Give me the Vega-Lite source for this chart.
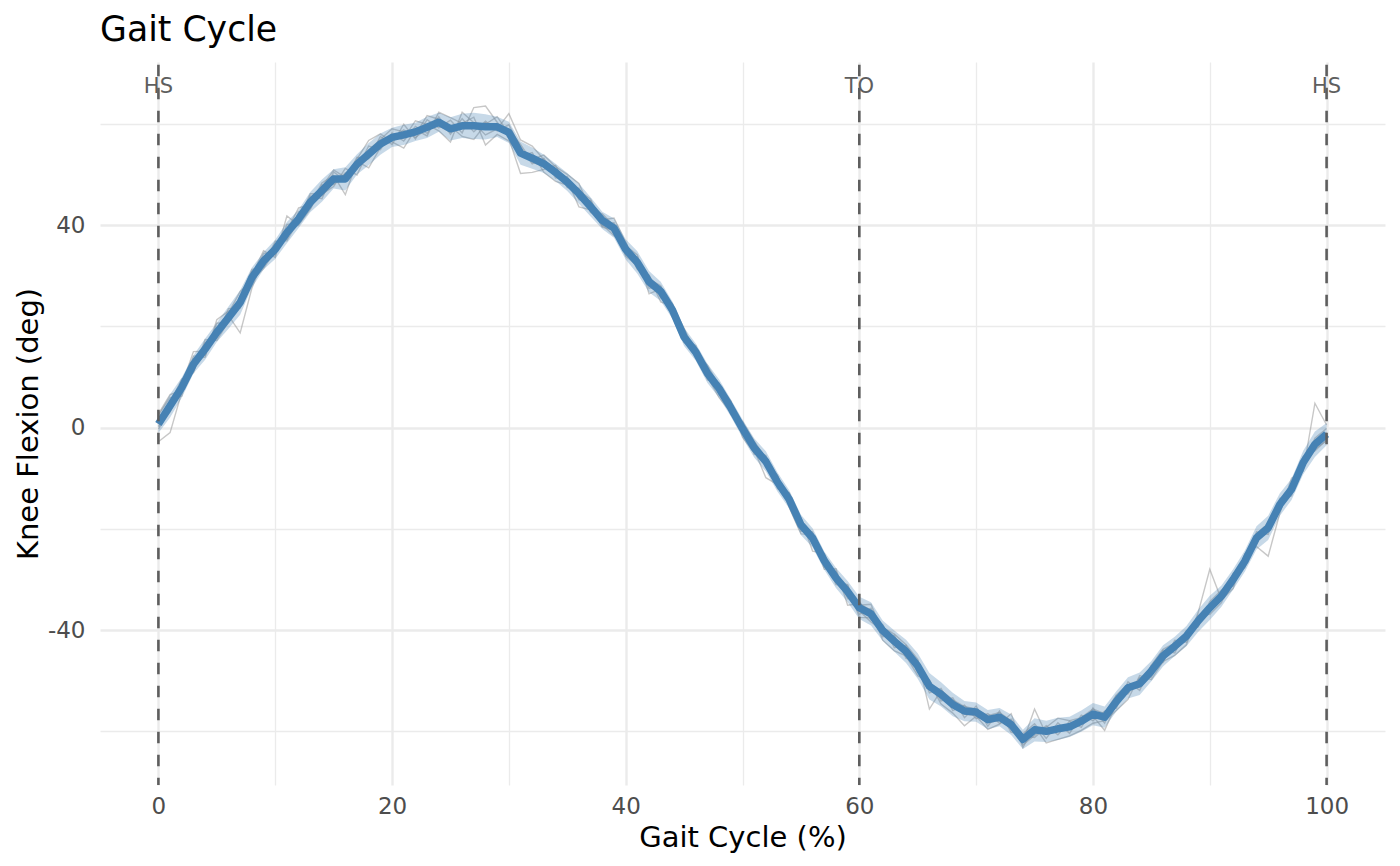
{
  "$schema": "https://vega.github.io/schema/vega-lite/v6.json",
  "width": 1285,
  "height": 723,
  "autosize": "none",
  "padding": {"left": 100, "top": 62, "right": 15, "bottom": 81},
  "background": "white",
  "title": {
    "text": "Gait Cycle",
    "anchor": "start",
    "frame": "group",
    "baseline": "alphabetic",
    "offset": -15,
    "fontSize": 34.7,
    "fontWeight": "normal",
    "color": "black"
  },
  "config": {
    "font": "DejaVu Sans",
    "view": {"stroke": null},
    "axis": {"domain": false, "ticks": false, "tickSize": 0, "gridColor": "#EBEBEB"}
  },
  "datasets": {
    "gait": [
      {"p":0,"m":0.7,"s":1.8,"a":0.2,"b":2.5,"c":-2.8,"d":1.6,"e":2.7,"f":-0.3},
      {"p":1,"m":4.3,"s":2.3,"a":3.1,"b":5.9,"c":-1.0,"d":4.8,"e":6.5,"f":3.6},
      {"p":2,"m":7.9,"s":2.0,"a":8.8,"b":6.2,"c":7.0,"d":9.6,"e":7.3,"f":8.4},
      {"p":3,"m":12.5,"s":1.8,"a":11.2,"b":14.1,"c":12.9,"d":10.8,"e":13.6,"f":15.0},
      {"p":4,"m":15.5,"s":2.1,"a":16.8,"b":14.2,"c":15.9,"d":17.4,"e":13.9,"f":15.1},
      {"p":5,"m":18.8,"s":1.9,"a":17.9,"b":20.6,"c":19.4,"d":17.2,"e":21.3,"f":18.1},
      {"p":6,"m":21.7,"s":2.2,"a":23.5,"b":20.8,"c":22.1,"d":21.0,"e":23.0,"f":22.6},
      {"p":7,"m":24.7,"s":2.4,"a":23.6,"b":26.0,"c":18.7,"d":25.4,"e":24.1,"f":26.9},
      {"p":8,"m":29.6,"s":2.0,"a":30.8,"b":28.3,"c":27.5,"d":31.2,"e":30.1,"f":29.0},
      {"p":9,"m":32.9,"s":1.7,"a":31.7,"b":34.4,"c":33.5,"d":32.0,"e":34.9,"f":31.4},
      {"p":10,"m":35.2,"s":1.9,"a":36.3,"b":34.1,"c":35.9,"d":36.8,"e":33.6,"f":35.0},
      {"p":11,"m":38.5,"s":2.1,"a":37.2,"b":40.1,"c":38.9,"d":36.9,"e":41.8,"f":38.0},
      {"p":12,"m":41.2,"s":1.8,"a":42.6,"b":40.3,"c":43.4,"d":41.0,"e":40.0,"f":42.1},
      {"p":13,"m":44.5,"s":2.0,"a":43.4,"b":45.7,"c":44.0,"d":46.2,"e":43.1,"f":45.3},
      {"p":14,"m":46.8,"s":2.2,"a":47.9,"b":45.2,"c":48.3,"d":46.1,"e":47.5,"f":45.8},
      {"p":15,"m":49.1,"s":1.9,"a":48.0,"b":50.5,"c":49.8,"d":47.6,"e":50.9,"f":48.4},
      {"p":16,"m":49.1,"s":2.3,"a":50.3,"b":48.7,"c":46.0,"d":51.2,"e":49.4,"f":50.0},
      {"p":17,"m":52.0,"s":2.0,"a":51.1,"b":53.4,"c":52.6,"d":49.9,"e":53.0,"f":51.5},
      {"p":18,"m":54.0,"s":2.2,"a":55.6,"b":53.1,"c":51.3,"d":54.8,"e":56.7,"f":53.7},
      {"p":19,"m":56.0,"s":2.1,"a":54.9,"b":57.5,"c":55.3,"d":56.9,"e":58.0,"f":55.4},
      {"p":20,"m":57.3,"s":1.9,"a":58.2,"b":55.9,"c":57.8,"d":59.0,"e":56.4,"f":57.0},
      {"p":21,"m":57.8,"s":2.0,"a":56.6,"b":59.9,"c":57.1,"d":58.4,"e":55.2,"f":58.8},
      {"p":22,"m":58.4,"s":1.8,"a":59.5,"b":57.0,"c":60.6,"d":57.8,"e":58.9,"f":57.3},
      {"p":23,"m":59.3,"s":2.1,"a":58.1,"b":60.8,"c":59.9,"d":61.6,"e":57.6,"f":59.0},
      {"p":24,"m":60.3,"s":1.9,"a":61.4,"b":59.2,"c":58.6,"d":60.9,"e":62.3,"f":59.7},
      {"p":25,"m":59.0,"s":2.3,"a":57.9,"b":60.7,"c":56.4,"d":59.5,"e":61.2,"f":58.3},
      {"p":26,"m":59.6,"s":2.4,"a":61.0,"b":58.2,"c":62.3,"d":57.5,"e":60.1,"f":59.9},
      {"p":27,"m":59.6,"s":2.6,"a":58.4,"b":63.2,"c":60.2,"d":56.9,"e":61.3,"f":59.1},
      {"p":28,"m":59.4,"s":2.5,"a":60.5,"b":63.5,"c":57.8,"d":59.9,"e":55.8,"f":60.2},
      {"p":29,"m":59.4,"s":2.0,"a":58.6,"b":60.3,"c":59.0,"d":61.4,"e":57.9,"f":58.8},
      {"p":30,"m":58.3,"s":2.1,"a":59.8,"b":57.1,"c":62.0,"d":58.0,"e":56.6,"f":58.9},
      {"p":31,"m":54.2,"s":2.3,"a":55.3,"b":50.2,"c":56.8,"d":53.6,"e":54.0,"f":55.9},
      {"p":32,"m":53.2,"s":2.1,"a":52.1,"b":50.4,"c":55.6,"d":54.3,"e":53.0,"f":52.4},
      {"p":33,"m":52.1,"s":1.8,"a":53.2,"b":51.0,"c":52.9,"d":50.4,"e":53.8,"f":51.6},
      {"p":34,"m":50.4,"s":1.7,"a":49.3,"b":51.8,"c":50.0,"d":48.6,"e":51.5,"f":50.9},
      {"p":35,"m":48.5,"s":1.8,"a":49.6,"b":47.4,"c":48.9,"d":47.9,"e":50.0,"f":48.1},
      {"p":36,"m":46.2,"s":2.0,"a":45.0,"b":47.3,"c":43.6,"d":46.8,"e":48.2,"f":45.7},
      {"p":37,"m":43.6,"s":1.9,"a":44.8,"b":42.5,"c":43.0,"d":45.1,"e":42.9,"f":44.1},
      {"p":38,"m":40.9,"s":1.7,"a":39.8,"b":41.6,"c":42.2,"d":40.1,"e":41.0,"f":39.6},
      {"p":39,"m":39.4,"s":1.9,"a":40.5,"b":38.2,"c":39.8,"d":37.9,"e":41.4,"f":39.0},
      {"p":40,"m":35.2,"s":2.0,"a":34.1,"b":36.0,"c":33.8,"d":35.9,"e":36.6,"f":34.7},
      {"p":41,"m":32.6,"s":2.2,"a":33.7,"b":31.2,"c":32.0,"d":34.1,"e":31.9,"f":33.0},
      {"p":42,"m":28.8,"s":2.1,"a":27.5,"b":30.1,"c":28.2,"d":26.4,"e":29.9,"f":29.3},
      {"p":43,"m":26.9,"s":1.9,"a":27.8,"b":25.6,"c":26.2,"d":27.4,"e":24.8,"f":28.0},
      {"p":44,"m":23.2,"s":1.7,"a":22.0,"b":24.5,"c":23.9,"d":22.6,"e":24.0,"f":23.0},
      {"p":45,"m":17.9,"s":1.8,"a":19.1,"b":16.8,"c":18.3,"d":17.2,"e":19.6,"f":17.0},
      {"p":46,"m":14.9,"s":1.7,"a":13.8,"b":15.7,"c":14.1,"d":16.2,"e":14.6,"f":15.3},
      {"p":47,"m":10.7,"s":1.9,"a":11.9,"b":9.4,"c":11.1,"d":10.0,"e":12.3,"f":9.9},
      {"p":48,"m":7.7,"s":1.8,"a":6.5,"b":8.8,"c":7.1,"d":5.9,"e":8.2,"f":8.0},
      {"p":49,"m":3.9,"s":1.7,"a":5.1,"b":2.6,"c":4.4,"d":3.0,"e":5.3,"f":3.5},
      {"p":50,"m":-0.2,"s":1.8,"a":-1.4,"b":0.9,"c":-0.6,"d":1.2,"e":-1.9,"f":0.3},
      {"p":51,"m":-4.0,"s":1.9,"a":-3.0,"b":-5.3,"c":-4.4,"d":-2.7,"e":-5.0,"f":-3.6},
      {"p":52,"m":-6.7,"s":2.0,"a":-7.8,"b":-5.5,"c":-9.9,"d":-6.2,"e":-7.1,"f":-5.9},
      {"p":53,"m":-10.8,"s":1.9,"a":-9.6,"b":-12.1,"c":-11.3,"d":-10.0,"e":-9.4,"f":-11.7},
      {"p":54,"m":-14.2,"s":1.8,"a":-15.4,"b":-13.0,"c":-14.9,"d":-13.6,"e":-15.8,"f":-12.9},
      {"p":55,"m":-19.2,"s":2.0,"a":-18.0,"b":-20.5,"c":-19.8,"d":-17.9,"e":-21.0,"f":-18.6},
      {"p":56,"m":-21.8,"s":1.9,"a":-23.0,"b":-20.6,"c":-22.3,"d":-24.4,"e":-21.1,"f":-20.9},
      {"p":57,"m":-26.3,"s":1.8,"a":-25.2,"b":-27.6,"c":-26.8,"d":-24.9,"e":-28.0,"f":-25.8},
      {"p":58,"m":-29.7,"s":2.0,"a":-31.0,"b":-28.4,"c":-29.1,"d":-30.6,"e":-27.9,"f":-30.2},
      {"p":59,"m":-32.4,"s":2.1,"a":-31.2,"b":-33.8,"c":-32.9,"d":-31.0,"e":-35.1,"f":-32.0},
      {"p":60,"m":-35.6,"s":2.2,"a":-36.9,"b":-34.3,"c":-35.1,"d":-37.5,"e":-34.8,"f":-36.2},
      {"p":61,"m":-36.8,"s":2.3,"a":-35.7,"b":-38.0,"c":-34.9,"d":-37.6,"e":-36.1,"f":-38.4},
      {"p":62,"m":-40.1,"s":2.0,"a":-41.3,"b":-38.9,"c":-40.6,"d":-39.5,"e":-42.0,"f":-40.0},
      {"p":63,"m":-42.2,"s":2.1,"a":-41.0,"b":-43.5,"c":-42.9,"d":-40.8,"e":-44.1,"f":-41.6},
      {"p":64,"m":-44.2,"s":2.3,"a":-45.6,"b":-43.0,"c":-44.8,"d":-42.9,"e":-45.1,"f":-44.0},
      {"p":65,"m":-47.1,"s":2.5,"a":-46.0,"b":-48.4,"c":-47.7,"d":-45.8,"e":-49.0,"f":-46.6},
      {"p":66,"m":-51.1,"s":2.6,"a":-52.4,"b":-49.8,"c":-51.8,"d":-55.6,"e":-50.3,"f":-50.9},
      {"p":67,"m":-52.7,"s":2.4,"a":-51.5,"b":-54.0,"c":-53.3,"d":-51.9,"e":-54.6,"f":-52.1},
      {"p":68,"m":-54.7,"s":2.3,"a":-55.9,"b":-53.4,"c":-55.2,"d":-53.8,"e":-56.4,"f":-54.1},
      {"p":69,"m":-56.0,"s":2.0,"a":-54.8,"b":-57.3,"c":-56.6,"d":-55.1,"e":-58.9,"f":-55.6},
      {"p":70,"m":-56.2,"s":1.9,"a":-57.5,"b":-55.0,"c":-56.9,"d":-55.6,"e":-57.0,"f":-55.8},
      {"p":71,"m":-57.7,"s":1.9,"a":-56.5,"b":-59.0,"c":-58.3,"d":-56.9,"e":-59.6,"f":-57.1},
      {"p":72,"m":-57.2,"s":1.8,"a":-58.4,"b":-56.0,"c":-57.8,"d":-56.3,"e":-58.6,"f":-56.9},
      {"p":73,"m":-58.7,"s":2.0,"a":-57.6,"b":-60.2,"c":-59.2,"d":-57.9,"e":-56.5,"f":-59.0},
      {"p":74,"m":-61.6,"s":1.9,"a":-62.7,"b":-60.5,"c":-62.1,"d":-60.9,"e":-63.2,"f":-61.3},
      {"p":75,"m":-59.7,"s":2.3,"a":-60.8,"b":-58.5,"c":-55.6,"d":-61.2,"e":-59.0,"f":-60.3},
      {"p":76,"m":-60.0,"s":2.1,"a":-58.9,"b":-61.4,"c":-60.6,"d":-59.2,"e":-62.3,"f":-59.6},
      {"p":77,"m":-59.5,"s":2.2,"a":-60.7,"b":-58.3,"c":-60.0,"d":-57.4,"e":-61.6,"f":-59.1},
      {"p":78,"m":-59.1,"s":2.0,"a":-58.0,"b":-60.4,"c":-59.6,"d":-57.9,"e":-60.9,"f":-58.6},
      {"p":79,"m":-58.0,"s":2.1,"a":-59.2,"b":-56.8,"c":-58.6,"d":-57.3,"e":-59.8,"f":-57.5},
      {"p":80,"m":-56.6,"s":2.2,"a":-55.4,"b":-57.9,"c":-57.0,"d":-55.6,"e":-58.4,"f":-56.1},
      {"p":81,"m":-57.2,"s":2.1,"a":-58.4,"b":-56.0,"c":-59.8,"d":-56.5,"e":-57.9,"f":-56.8},
      {"p":82,"m":-54.1,"s":2.0,"a":-53.0,"b":-55.4,"c":-54.6,"d":-52.8,"e":-55.9,"f":-53.7},
      {"p":83,"m":-51.4,"s":2.1,"a":-52.6,"b":-50.2,"c":-51.9,"d":-50.8,"e":-53.7,"f":-51.0},
      {"p":84,"m":-50.6,"s":2.2,"a":-49.4,"b":-51.9,"c":-50.0,"d":-51.3,"e":-49.0,"f":-50.2},
      {"p":85,"m":-48.1,"s":2.0,"a":-49.3,"b":-47.0,"c":-48.7,"d":-46.9,"e":-49.8,"f":-47.6},
      {"p":86,"m":-45.1,"s":2.1,"a":-44.0,"b":-46.4,"c":-45.6,"d":-43.8,"e":-46.2,"f":-44.7},
      {"p":87,"m":-43.2,"s":1.9,"a":-44.5,"b":-42.0,"c":-43.9,"d":-42.6,"e":-45.0,"f":-42.8},
      {"p":88,"m":-41.2,"s":2.0,"a":-40.1,"b":-42.4,"c":-41.8,"d":-40.5,"e":-42.9,"f":-40.8},
      {"p":89,"m":-38.2,"s":2.2,"a":-39.4,"b":-37.1,"c":-38.8,"d":-37.5,"e":-36.6,"f":-38.0},
      {"p":90,"m":-35.6,"s":2.4,"a":-34.4,"b":-36.9,"c":-35.1,"d":-36.3,"e":-28.0,"f":-35.2},
      {"p":91,"m":-33.3,"s":2.1,"a":-32.1,"b":-34.6,"c":-33.9,"d":-32.4,"e":-34.0,"f":-33.0},
      {"p":92,"m":-30.0,"s":2.0,"a":-31.3,"b":-28.8,"c":-30.6,"d":-29.2,"e":-31.8,"f":-29.5},
      {"p":93,"m":-26.4,"s":2.1,"a":-25.2,"b":-27.7,"c":-26.0,"d":-27.2,"e":-24.9,"f":-26.8},
      {"p":94,"m":-21.8,"s":2.3,"a":-23.0,"b":-20.6,"c":-22.4,"d":-21.0,"e":-23.5,"f":-21.3},
      {"p":95,"m":-19.8,"s":2.4,"a":-18.6,"b":-21.1,"c":-20.3,"d":-18.9,"e":-25.4,"f":-19.4},
      {"p":96,"m":-15.2,"s":2.2,"a":-16.4,"b":-14.0,"c":-15.8,"d":-14.5,"e":-16.9,"f":-14.8},
      {"p":97,"m":-12.2,"s":2.1,"a":-11.0,"b":-13.5,"c":-12.7,"d":-11.4,"e":-10.0,"f":-12.9},
      {"p":98,"m":-6.9,"s":2.3,"a":-8.1,"b":-5.7,"c":-7.4,"d":-6.0,"e":-8.6,"f":-6.5},
      {"p":99,"m":-3.3,"s":2.5,"a":-2.1,"b":-4.6,"c":-3.0,"d":-4.2,"e":4.8,"f":-3.6},
      {"p":100,"m":-1.3,"s":2.2,"a":-0.2,"b":-2.4,"c":-1.0,"d":-2.6,"e":0.5,"f":-1.7}
    ],
    "events": [
      {"x": 0, "lab": "HS"},
      {"x": 60, "lab": "TO"},
      {"x": 100, "lab": "HS"}
    ]
  },
  "resolve": {"axis": {"x": "independent", "y": "independent"}},
  "layer": [
    {
      "data": {"name": "gait"},
      "transform": [{"fold": ["a", "b", "c", "d", "e", "f"], "as": ["trial", "v"]}],
      "mark": {"type": "line", "color": "#999999", "opacity": 0.55, "strokeWidth": 1.4},
      "encoding": {
        "x": {
          "field": "p", "type": "quantitative",
          "scale": {"domain": [-5, 105], "nice": false, "zero": false},
          "axis": {"orient": "bottom", "values": [10, 30, 50, 70, 90], "labels": false, "title": null, "grid": true, "gridWidth": 1.3}
        },
        "y": {
          "field": "v", "type": "quantitative",
          "scale": {"domain": [-70.6, 72.2], "nice": false, "zero": false},
          "axis": {"orient": "left", "values": [-60, -20, 20, 60], "labels": false, "title": null, "grid": true, "gridWidth": 1.3}
        },
        "detail": {"field": "trial"}
      }
    },
    {
      "data": {"name": "gait"},
      "mark": {"type": "errorband", "color": "#4682B4", "band": {"opacity": 0.3}},
      "encoding": {
        "x": {"field": "p", "type": "quantitative", "scale": {"domain": [-5, 105], "nice": false, "zero": false}, "axis": null},
        "y": {"field": "m", "type": "quantitative", "scale": {"domain": [-70.6, 72.2], "nice": false, "zero": false}, "axis": null},
        "yError": {"field": "s"}
      }
    },
    {
      "data": {"name": "gait"},
      "mark": {"type": "line", "color": "#4682B4", "strokeWidth": 7.5, "strokeCap": "butt", "strokeJoin": "round"},
      "encoding": {
        "x": {
          "field": "p", "type": "quantitative",
          "scale": {"domain": [-5, 105], "nice": false, "zero": false},
          "axis": {
            "orient": "bottom", "values": [0, 20, 40, 60, 80, 100], "grid": true, "gridWidth": 2.4,
            "title": "Gait Cycle (%)", "titleFontSize": 29, "titleFontWeight": "normal", "titleColor": "black",
            "titleBaseline": "alphabetic", "titleY": 61,
            "labelFontSize": 23, "labelColor": "#4D4D4D", "labelBaseline": "alphabetic", "labelPadding": 28
          }
        },
        "y": {
          "field": "m", "type": "quantitative",
          "scale": {"domain": [-70.6, 72.2], "nice": false, "zero": false},
          "axis": {
            "orient": "left", "values": [-40, 0, 40], "grid": true, "gridWidth": 2.4,
            "labelExpr": "'' + datum.value",
            "title": "Knee Flexion (deg)", "titleFontSize": 29, "titleFontWeight": "normal", "titleColor": "black",
            "titleBaseline": "alphabetic", "titleX": -63,
            "labelFontSize": 23, "labelColor": "#4D4D4D", "labelBaseline": "middle", "labelPadding": 15
          }
        }
      }
    },
    {
      "data": {"name": "events"},
      "mark": {"type": "rule", "color": "#5e5e5e", "strokeWidth": 2.6, "strokeDash": [11.5, 11.5], "strokeDashOffset": 20.3},
      "encoding": {
        "x": {"field": "x", "type": "quantitative", "scale": {"domain": [-5, 105], "nice": false, "zero": false}, "axis": null}
      }
    },
    {
      "data": {"name": "events"},
      "mark": {"type": "text", "fontSize": 21, "color": "#5e5e5e", "align": "center", "baseline": "middle"},
      "encoding": {
        "x": {"field": "x", "type": "quantitative", "scale": {"domain": [-5, 105], "nice": false, "zero": false}, "axis": null},
        "y": {"datum": 67.3, "type": "quantitative", "scale": {"domain": [-70.6, 72.2], "nice": false, "zero": false}, "axis": null},
        "text": {"field": "lab"}
      }
    }
  ]
}
